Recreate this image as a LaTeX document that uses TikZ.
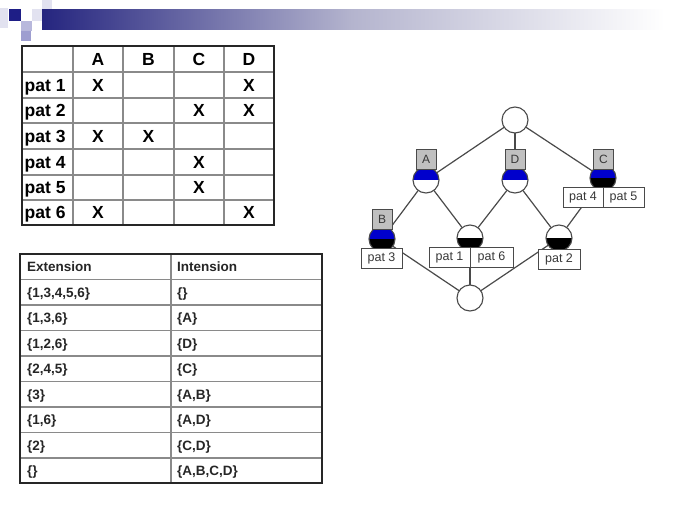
\documentclass[tikz,border=0pt]{standalone}
\usepackage{fontspec}
\setmainfont{Liberation Sans}
\definecolor{hdrdark}{HTML}{25257F}
\definecolor{hdrmid}{HTML}{B4B4CE}
\definecolor{sqdark}{HTML}{1E1E86}
\definecolor{sqlight}{HTML}{E2E2F0}
\definecolor{sqmid}{HTML}{B8B8DC}
\definecolor{sqmid2}{HTML}{9E9ED0}
\definecolor{edgec}{HTML}{4A4A4A}
\definecolor{conblue}{HTML}{0000CC}
\definecolor{boxgray}{HTML}{C0C0C0}
\definecolor{txtgray}{HTML}{383838}
\definecolor{gridgray}{HTML}{8A8A8A}
\newcommand\conc[5]{%
  \node[concept] (#1) at (#2,#3) {};
  \begin{scope}
    \clip (#2,#3) circle[radius=13];
    \fill[#4] (#2-14,#3-14) rectangle (#2+14,#3);
    \fill[#5] (#2-14,#3) rectangle (#2+14,#3+14);
  \end{scope}
  \draw[edgec, line width=1.1pt] (#2,#3) circle[radius=13];
}
\begin{document}
\begin{tikzpicture}[x=1pt,y=-1pt,
  concept/.style={circle, minimum size=26pt, inner sep=0pt},
  attrbox/.style={draw=edgec, fill=boxgray, line width=0.9pt, minimum width=20pt, minimum height=20pt, inner sep=0pt, text=txtgray, font=\fontsize{12}{13}\selectfont},
  objbox/.style={draw=edgec, fill=white, line width=0.9pt, minimum height=20pt, inner sep=0pt, text height=9pt, text depth=3pt, text=txtgray, font=\fontsize{12.5}{14}\selectfont},
  tonecell/.style={inner sep=0pt, anchor=base, font=\fontsize{17.5}{19}\selectfont\bfseries},
  ttwocell/.style={inner sep=0pt, anchor=base west, font=\fontsize{13.5}{15}\selectfont\bfseries, text=black!85},
  lnk/.style={draw=edgec, line width=1.2pt}]
\useasboundingbox (0,0) rectangle (689,517);
\fill[white] (0,0) rectangle (689,517);
% header
\shade[left color=hdrdark, right color=hdrmid] (42,9) rectangle (352,29);
\shade[left color=hdrmid, right color=white] (351,9) rectangle (665,29);
\fill[sqlight] (0,8) rectangle (8,28);
\fill[sqdark] (9,9) rectangle (21,21);
\fill[sqmid] (21,21) rectangle (32,31);
\fill[sqmid2] (21,31) rectangle (31,41);
\fill[sqlight] (32,9) rectangle (42,21);
\fill[sqlight] (42,0) rectangle (52,9);
% ---------- table 1 ----------
\foreach \xx in {73,123,174,224} \draw[gridgray, line width=1.2pt] (\xx,46) -- (\xx,225);
\foreach \yy in {72,98,123,149,175,200} \draw[gridgray, line width=1.2pt] (22,\yy) -- (274,\yy);
\draw[black!85, line width=1.6pt] (22,46) rectangle (274,225);
\node[tonecell] (hA) at (98,65.3) {A};
\node[tonecell] (hB) at (148.5,65.3) {B};
\node[tonecell] (hC) at (199,65.3) {C};
\node[tonecell] (hD) at (249,65.3) {D};
\foreach \i/\yy in {1/91.3,2/116.8,3/142.3,4/168.3,5/193.8,6/218.8}
  \node[tonecell, anchor=base west] (p\i) at (24.5,\yy) {pat \i};
\foreach \nm/\xx/\yy in {x1a/98/91.3, x1d/249/91.3, x2c/199/116.8, x2d/249/116.8, x3a/98/142.3, x3b/148.5/142.3, x4c/199/168.3, x5c/199/193.8, x6a/98/218.8, x6d/249/218.8}
  \node[tonecell] (\nm) at (\xx,\yy) {X};
% ---------- table 2 ----------
\draw[gridgray, line width=1.2pt] (171,254) -- (171,483);
\foreach \yy in {279.5,305,330.5,356,381.5,407,432.5,458} \draw[gridgray, line width=1.2pt] (20,\yy) -- (322,\yy);
\draw[black!85, line width=1.6pt] (20,254) rectangle (322,483);
\foreach \k/\yy/\ext/\inte in {0/271.6/Extension/Intension, 1/297.1/{\{1,3,4,5,6\}}/{\{\}}, 2/322.6/{\{1,3,6\}}/{\{A\}}, 3/348.1/{\{1,2,6\}}/{\{D\}}, 4/373.6/{\{2,4,5\}}/{\{C\}}, 5/399.1/{\{3\}}/{\{A,B\}}, 6/424.6/{\{1,6\}}/{\{A,D\}}, 7/450.1/{\{2\}}/{\{C,D\}}, 8/475.4/{\{\}}/{\{A,B,C,D\}}}
{
  \node[ttwocell] (e\k) at (27,\yy) {\ext};
  \node[ttwocell] (n\k) at (177,\yy) {\inte};
}
% ---------- lattice ----------
\conc{top}{515}{120}{white}{white}
\conc{cA}{426}{180}{conblue}{white}
\conc{cD}{515}{180}{conblue}{white}
\conc{cC}{603}{178}{conblue}{black}
\conc{cB}{382}{239}{conblue}{black}
\conc{cM}{470}{238}{white}{black}
\conc{cP}{559}{238}{white}{black}
\conc{bot}{470}{298}{white}{white}
\draw[lnk] (top) -- (cA);
\draw[lnk] (top) -- (cD);
\draw[lnk] (top) -- (cC);
\draw[lnk] (cA) -- (cB);
\draw[lnk] (cA) -- (cM);
\draw[lnk] (cD) -- (cM);
\draw[lnk] (cD) -- (cP);
\draw[lnk] (cC) -- (cP);
\draw[lnk] (cB) -- (bot);
\draw[lnk] (cM) -- (bot);
\draw[lnk] (cP) -- (bot);
% labels
\node[attrbox] (lA) at (426,159) {A};
\node[attrbox] (lD) at (515,159) {D};
\node[attrbox] (lC) at (603.5,159) {C};
\node[attrbox] (lB) at (382,219) {B};
\node[objbox, minimum width=41pt] (l3) at (381.5,258.5) {pat 3};
\node[objbox, minimum width=41pt] (l1) at (449.5,257) {pat 1};
\node[objbox, minimum width=43pt] (l6) at (491.5,257) {pat 6};
\node[objbox, minimum width=40pt] (l4) at (583,197) {pat 4};
\node[objbox, minimum width=41pt] (l5) at (623.5,197) {pat 5};
\node[objbox, minimum width=42pt] (l2) at (559,259) {pat 2};
\draw[lnk] (l1.north east) -- (l1.south east);
\end{tikzpicture}
\end{document}
